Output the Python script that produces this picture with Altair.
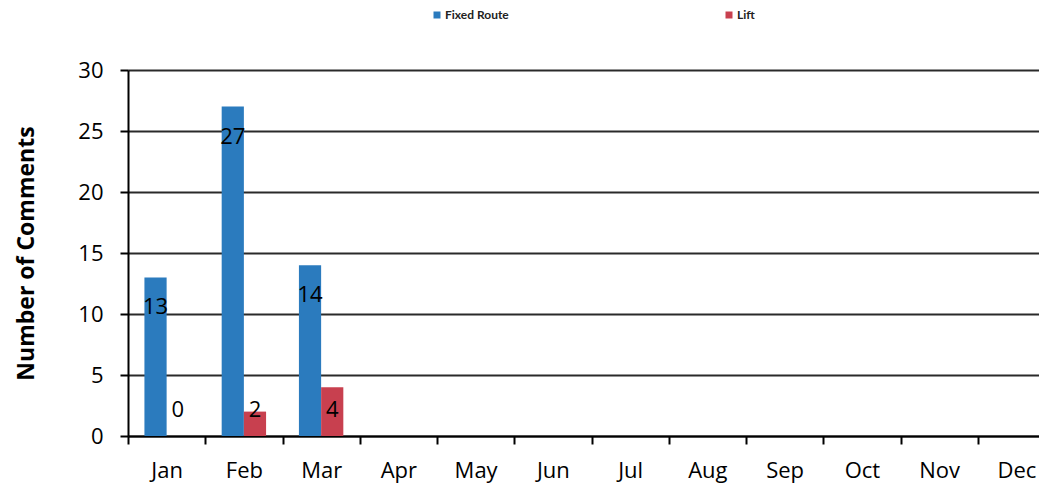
import altair as alt
import pandas as pd

months = ["Jan", "Feb", "Mar", "Apr", "May", "Jun", "Jul", "Aug", "Sep", "Oct", "Nov", "Dec"]
series = ["Fixed Route", "Lift"]
fixed_route = [13, 27, 14]
lift = [0, 2, 4]
colors = ["#2B7BBE", "#C8404F"]
y_ticks = [0, 5, 10, 15, 20, 25, 30]

rows = []
for m, v in zip(months, fixed_route):
    rows.append({"month": m, "series": "Fixed Route", "value": v})
for m, v in zip(months, lift):
    rows.append({"month": m, "series": "Lift", "value": v})
df = pd.DataFrame(rows)

FONT = "Open Sans"

x_enc = alt.X(
    "month:N",
    sort=months,
    scale=alt.Scale(domain=months, paddingInner=0, paddingOuter=0, rangeMax=927),
    axis=alt.Axis(
        title=None, tickBand="extent", labelAngle=0, labelFontSize=22, labelFont=FONT,
        labelColor="black", tickColor="black", tickSize=8, tickWidth=2,
        domainColor="black", domainWidth=2, labelPadding=16, grid=False,
    ),
)
xo_scale = alt.Scale(domain=series, paddingInner=0, paddingOuter=0.74)
y_scale = alt.Scale(domain=[0, 30], nice=False)

bars = alt.Chart(df).mark_bar().encode(
    x=x_enc,
    xOffset=alt.XOffset("series:N", sort=series, scale=xo_scale),
    y=alt.Y(
        "value:Q",
        scale=y_scale,
        axis=alt.Axis(
            title="Number of Comments", titleFont=FONT, titleFontSize=23, titleFontWeight="bold",
            titleColor="black", titlePadding=39, values=y_ticks, labelFontSize=22, labelFont=FONT,
            labelColor="black", tickColor="black", tickSize=8, tickWidth=2, labelPadding=17,
            domainColor="black", domainWidth=2, gridColor="#2a2a2a", gridWidth=2,
        ),
    ),
    color=alt.Color(
        "series:N",
        sort=series,
        scale=alt.Scale(domain=series, range=colors),
        legend=alt.Legend(
            title=None, orient="none", legendX=303, legendY=-61, direction="horizontal",
            columns=2, columnPadding=214, symbolType="square", symbolSize=49,
            symbolStrokeWidth=0, labelFont="Lato", labelFontSize=12, labelFontWeight="bold",
            labelColor="#222222", labelOffset=2, padding=0,
        ),
    ),
)

fixed_labels = alt.Chart(df).transform_filter(alt.datum.series == "Fixed Route").mark_text(
    fontSize=22, font=FONT, color="black", dy=30, baseline="middle"
).encode(
    x=alt.X("month:N", sort=months),
    xOffset=alt.XOffset("series:N", sort=series),
    y=alt.Y("value:Q"),
    text="value:Q",
)

lift_labels = alt.Chart(df).transform_filter(alt.datum.series == "Lift").mark_text(
    fontSize=22, font=FONT, color="black", dy=-26, baseline="middle"
).encode(
    x=alt.X("month:N", sort=months),
    xOffset=alt.XOffset("series:N", sort=series),
    y=alt.datum(0),
    text="value:Q",
)

chart = alt.layer(bars, fixed_labels, lift_labels).properties(
    width=911, height=366,
    autosize=alt.AutoSizeParams(type="none"),
    padding={"left": 120, "top": 62, "right": 0, "bottom": 50},
).configure_view(stroke=None).configure(background="white")

chart.save("out.html", embed_options={"renderer": "svg", "actions": False})
